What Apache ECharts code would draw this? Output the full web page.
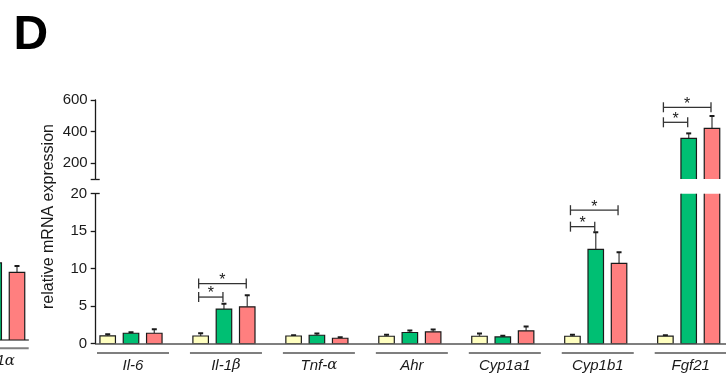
<!DOCTYPE html>
<html>
<head>
<meta charset="utf-8">
<script src="https://cdn.jsdelivr.net/npm/echarts@6/dist/echarts.min.js"></script>
<style>
  html, body { margin: 0; padding: 0; background: #fff; }
  #chart { width: 726px; height: 385px; }
</style>
</head>
<body>
<div id="chart"></div>
<script>
// ---- data -------------------------------------------------------------
const genes = ['Il-6', 'Il-1β', 'Tnf-α', 'Ahr', 'Cyp1a1', 'Cyp1b1', 'Fgf21'];

const ctrlMean = [1.02, 1.00, 1.00, 0.97, 0.97, 0.97, 0.98];
const ctrlErr  = [0.22, 0.38, 0.09, 0.21, 0.38, 0.21, 0.12];
const grpAMean = [1.37, 4.60, 1.10, 1.47, 0.88, 12.57, 358];
const grpAErr  = [0.12, 0.72, 0.23, 0.27, 0.14, 2.27, 31];
const grpBMean = [1.37, 4.90, 0.70, 1.56, 1.69, 10.70, 421];
const grpBErr  = [0.53, 1.53, 0.14, 0.31, 0.58, 1.47, 78];

// significance brackets: gene index, bar pair, bracket height, mark
const sigGene  = [1, 1, 5, 5, 6, 6];
const sigFrom  = [0, 0, 0, 0, 0, 0];
const sigTo    = [1, 2, 1, 2, 1, 2];
const sigLevel = [6.2, 8.0, 15.6, 17.8, 459, 554];
const sigMark  = ['*', '*', '*', '*', '*', '*'];

// broken value axis: lower and upper segments
const lowerRange = [0, 20];
const lowerTicks = [0, 5, 10, 15, 20];
const upperRange = [100, 600];
const upperTicks = [200, 400, 600];

// right-hand end of the neighbouring panel
const sideGene = 'Pgc1α';
const sideMean = [1.0, 10.3, 9.05];
const sideErr  = [0.2, 0.9, 0.85];

const yTitle = 'relative mRNA expression';
const panelTag = 'D';

// ---- style ------------------------------------------------------------
const FONT = "'Liberation Sans', Arial, sans-serif";
const FILLS = ['#FFFFC0', '#00BF73', '#FF7F7F'];
const BAR_W = 15.5;
const BAR_PITCH = 23.3;
const INK = '#1a1a1a';

function barItems(means) {
  const out = [];
  genes.forEach(function (_, g) {
    means.forEach(function (arr, k) { out.push([g, k, arr[g][0], arr[g][1]]); });
  });
  return out;
}
const pairs = [ctrlMean, grpAMean, grpBMean].map(function (m, k) {
  const e = [ctrlErr, grpAErr, grpBErr][k];
  return m.map(function (v, i) { return [v, e[i]]; });
});
const mainBars = barItems(pairs);
const sideBars = sideMean.map(function (v, k) { return [0, k, v, sideErr[k]]; });

const sigItems = sigGene.map(function (g, i) {
  return [g, sigFrom[i], sigTo[i], sigLevel[i], i];
});
const sigUpper = sigItems.filter(function (d) { return d[3] > lowerRange[1]; });
const sigLower = sigItems.filter(function (d) { return d[3] <= lowerRange[1]; });

function renderBar(params, api) {
  const g = api.value(0), k = api.value(1), mean = api.value(2), err = api.value(3);
  const base = api.coord([g, 0]);
  const top = api.coord([g, mean]);
  const cap = api.coord([g, mean + err]);
  const cx = base[0] + (k - 1) * BAR_PITCH;
  return {
    type: 'group',
    children: [
      { type: 'line', shape: { x1: cx, y1: top[1], x2: cx, y2: cap[1] },
        style: { stroke: '#555', lineWidth: 1.4 } },
      { type: 'line', shape: { x1: cx - 2.5, y1: cap[1], x2: cx + 2.5, y2: cap[1] },
        style: { stroke: INK, lineWidth: 2 } },
      { type: 'rect', shape: { x: cx - BAR_W / 2, y: top[1], width: BAR_W, height: base[1] - top[1] },
        style: { fill: FILLS[k], stroke: INK, lineWidth: 1.2 } }
    ]
  };
}

function renderSig(params, api) {
  const g = api.value(0), a = api.value(1), b = api.value(2), lvl = api.value(3);
  const c = api.coord([g, lvl]);
  const x1 = c[0] + (a - 1) * BAR_PITCH - 2;
  const x2 = c[0] + (b - 1) * BAR_PITCH - 1;
  const y = c[1];
  const st = { stroke: '#333', lineWidth: 1.3 };
  return {
    type: 'group',
    children: [
      { type: 'line', shape: { x1: x1, y1: y, x2: x2, y2: y }, style: st },
      { type: 'line', shape: { x1: x1, y1: y - 5, x2: x1, y2: y + 5 }, style: st },
      { type: 'line', shape: { x1: x2, y1: y - 5, x2: x2, y2: y + 5 }, style: st },
      { type: 'text', x: (x1 + x2) / 2, y: y - 3,
        style: { text: sigMark[api.value(4)], fontSize: 16, fontFamily: FONT, fill: INK,
                 align: 'center', verticalAlign: 'middle' } }
    ]
  };
}

function richGene(name) {
  return name.replace(/([α-ω])/g, '{g|$1}');
}
function geneLabel(name, cx, baseY, lineGap, textGap) {
  return {
    type: 'group',
    children: [
      { type: 'line', shape: { x1: cx - 34, y1: baseY + lineGap, x2: cx + 38, y2: baseY + lineGap },
        style: { stroke: '#7f7f7f', lineWidth: 2 } },
      { type: 'text', x: cx + 2, y: baseY + textGap,
        style: { text: richGene(name), fontSize: 15, fontFamily: FONT, fontStyle: 'italic',
                 fill: INK, align: 'center', verticalAlign: 'middle',
                 rich: { g: { fontSize: 15, fontFamily: "'DejaVu Serif', serif", fontStyle: 'italic', fill: INK } } } }
    ]
  };
}
function renderGene(params, api) {
  const g = api.value(0);
  const p = api.coord([g, 0]);
  return geneLabel(genes[g], p[0], p[1], 9.5, 22);
}
function renderSideGene(params, api) {
  const p = api.coord([0, 0]);
  return geneLabel(sideGene, p[0] - 3, p[1], 8.3, 21);
}

// ---- layout -----------------------------------------------------------
const PLOT_LEFT = 95.7;
const PX_PER_GENE = 92.95;
const FIRST_CENTER = 131;
const xMin = (PLOT_LEFT - FIRST_CENTER) / PX_PER_GENE;
const xMax = (726 - FIRST_CENTER) / PX_PER_GENE;
const SIDE_LEFT = -60, SIDE_RIGHT = 28.3, SIDE_CENTER = -6.3;

const axisInk = { lineStyle: { color: INK, width: 1.3 } };

function valueAxis(extra) {
  return Object.assign({ type: 'value', position: 'left', offset: 0, splitLine: { show: false } }, extra);
}

const chart = echarts.init(document.getElementById('chart'), null, { renderer: 'canvas' });
chart.setOption({
  animation: false,
  backgroundColor: '#fff',
  textStyle: { fontFamily: FONT },
  grid: [
    { left: PLOT_LEFT, right: 0, top: 100, height: 79.1, outerBoundsMode: 'none', containLabel: false },
    { left: PLOT_LEFT, right: 0, top: 193.7, height: 149.8, outerBoundsMode: 'none', containLabel: false },
    { left: SIDE_LEFT, width: SIDE_RIGHT - SIDE_LEFT, top: 190.4, height: 149.6, outerBoundsMode: 'none', containLabel: false }
  ],
  xAxis: [
    { type: 'value', gridIndex: 0, min: xMin, max: xMax, show: false },
    { type: 'value', gridIndex: 1, min: xMin, max: xMax, position: 'bottom',
      axisLine: { show: true, onZero: false, lineStyle: { color: '#555', width: 1.6 } },
      axisTick: { show: false }, axisLabel: { show: false }, splitLine: { show: false } },
    { type: 'value', gridIndex: 2, position: 'bottom',
      min: (SIDE_LEFT - SIDE_CENTER) / PX_PER_GENE, max: (SIDE_RIGHT - SIDE_CENTER) / PX_PER_GENE,
      axisLine: { show: true, onZero: false, lineStyle: { color: '#555', width: 1.6 } },
      axisTick: { show: false }, axisLabel: { show: false }, splitLine: { show: false } }
  ],
  yAxis: [
    valueAxis({ gridIndex: 0, min: upperRange[0], max: upperRange[1],
      axisLine: Object.assign({ show: true, onZero: false }, axisInk),
      axisTick: Object.assign({ show: true, length: 5, customValues: [upperRange[0]].concat(upperTicks) }, axisInk),
      axisLabel: { show: true, customValues: upperTicks, fontSize: 15, color: INK, margin: 8, fontFamily: FONT } }),
    valueAxis({ gridIndex: 0, min: upperRange[0], max: upperRange[1],
      axisLine: { show: false, onZero: false }, axisLabel: { show: false },
      axisTick: Object.assign({ show: true, inside: true, length: 4, customValues: [upperRange[0]] }, axisInk) }),
    valueAxis({ gridIndex: 1, min: lowerRange[0], max: lowerRange[1],
      axisLine: Object.assign({ show: true, onZero: false }, axisInk),
      axisTick: Object.assign({ show: true, length: 5, customValues: lowerTicks }, axisInk),
      axisLabel: { show: true, customValues: lowerTicks, fontSize: 15, color: INK, margin: 8.5, fontFamily: FONT } }),
    valueAxis({ gridIndex: 1, min: lowerRange[0], max: lowerRange[1],
      axisLine: { show: false, onZero: false }, axisLabel: { show: false },
      axisTick: Object.assign({ show: true, inside: true, length: 4, customValues: [lowerRange[1]] }, axisInk) }),
    valueAxis({ gridIndex: 2, min: 0, max: 20, show: false, axisLine: { onZero: false } })
  ],
  series: [
    { type: 'custom', name: 'bars upper', xAxisIndex: 0, yAxisIndex: 0, clip: true,
      data: mainBars, renderItem: renderBar, silent: true },
    { type: 'custom', name: 'bars lower', xAxisIndex: 1, yAxisIndex: 2, clip: true,
      data: mainBars, renderItem: renderBar, silent: true },
    { type: 'custom', name: 'sig upper', xAxisIndex: 0, yAxisIndex: 0, clip: false,
      data: sigUpper, renderItem: renderSig, silent: true },
    { type: 'custom', name: 'sig lower', xAxisIndex: 1, yAxisIndex: 2, clip: false,
      data: sigLower, renderItem: renderSig, silent: true },
    { type: 'custom', name: 'genes', xAxisIndex: 1, yAxisIndex: 2, clip: false,
      data: genes.map(function (_, i) { return [i]; }), renderItem: renderGene, silent: true },
    { type: 'custom', name: 'side bars', xAxisIndex: 2, yAxisIndex: 4, clip: true,
      data: sideBars, renderItem: renderBar, silent: true },
    { type: 'custom', name: 'side gene', xAxisIndex: 2, yAxisIndex: 4, clip: false,
      data: [[0]], renderItem: renderSideGene, silent: true }
  ],
  graphic: [
    { type: 'text', x: 13.5, y: 36,
      style: { text: panelTag, fontSize: 48, fontWeight: 'bold', fontFamily: FONT, fill: '#000',
               align: 'left', verticalAlign: 'middle' } },
    { type: 'text', x: 49, y: 216.5, rotation: Math.PI / 2,
      style: { text: yTitle, fontSize: 16, fontFamily: FONT, fill: INK,
               align: 'center', verticalAlign: 'middle' } }
  ]
});
</script>
</body>
</html>
